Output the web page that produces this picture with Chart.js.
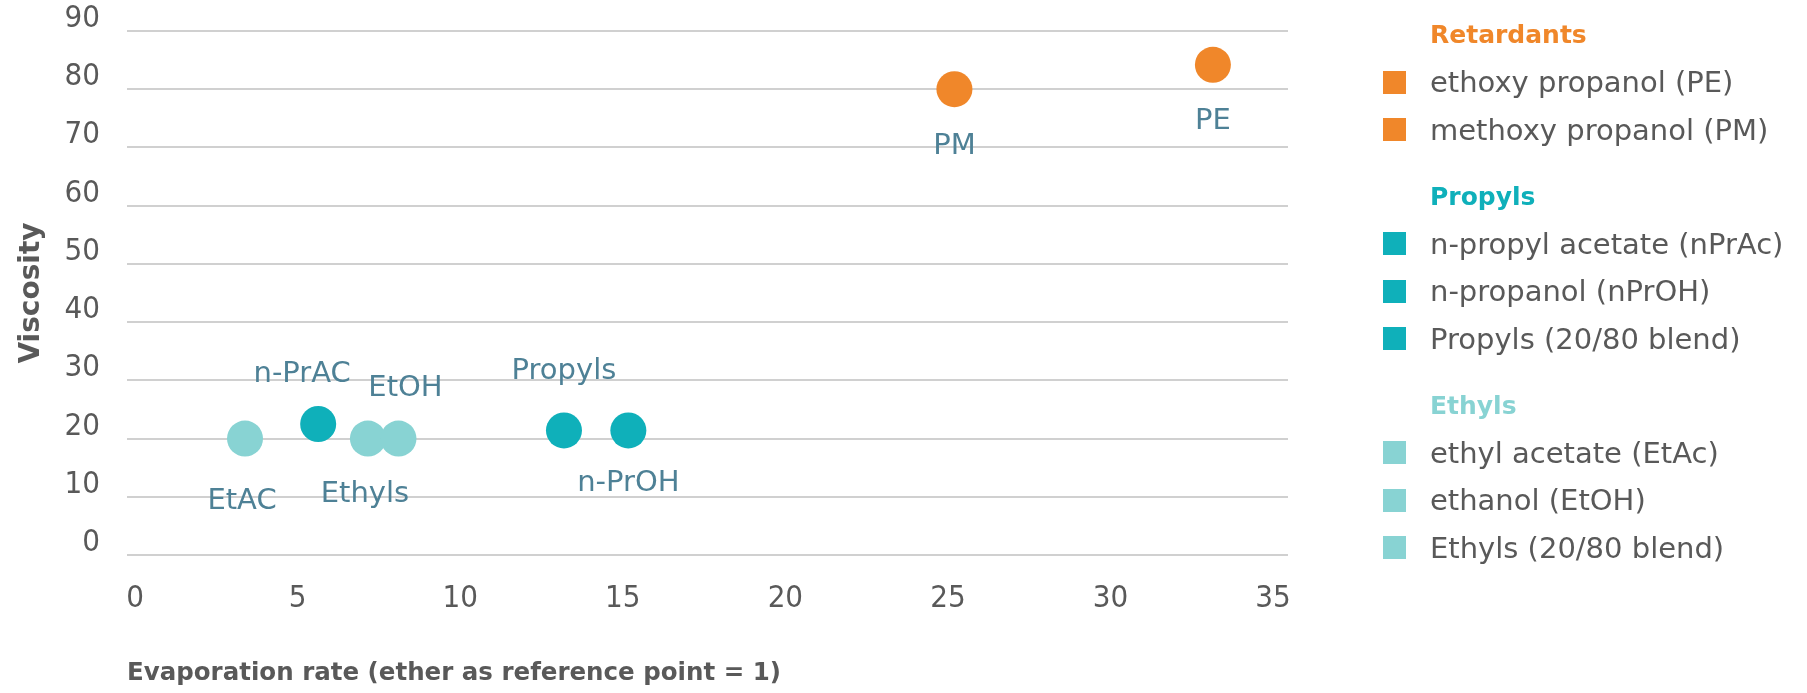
<!DOCTYPE html>
<html>
<head>
<meta charset="utf-8">
<title>Viscosity vs evaporation rate</title>
<script src="https://cdn.jsdelivr.net/npm/chart.js@4.4.1/dist/chart.umd.min.js"></script>
<style>
  html, body { margin: 0; padding: 0; background: #fff; overflow: hidden; }
  #wrap { position: relative; width: 1807px; height: 693px; }
  #chart { position: absolute; left: 0; top: 0; }
  #legend {
    position: absolute; left: 1383px; top: 11px;
    font-family: "DejaVu Sans", sans-serif; color: #595959;
  }
  .grp { margin-bottom: 19px; }
  .row { height: 47.5px; display: flex; align-items: center; font-size: 29px; white-space: nowrap; }
  .row.head { font-weight: bold; font-size: 25px; padding-left: 47px; }
  .box { width: 23px; height: 23px; margin-right: 24px; flex: none; }
</style>
</head>
<body>
<div id="wrap">
  <canvas id="chart" width="1807" height="693"></canvas>
  <div id="legend"></div>
</div>
<script>
// groups and their colours
const groupNames = ['Retardants', 'Propyls', 'Ethyls'];
const groupColors = ['#F0872A', '#0FB0BA', '#88D3D3'];

// one series per solvent
const seriesNames = [
  'ethoxy propanol (PE)',
  'methoxy propanol (PM)',
  'n-propyl acetate (nPrAc)',
  'n-propanol (nPrOH)',
  'Propyls (20/80 blend)',
  'ethyl acetate (EtAc)',
  'ethanol (EtOH)',
  'Ethyls (20/80 blend)'
];
const seriesGroup = [0, 0, 1, 1, 1, 2, 2, 2];
const evaporationRate = [33.15, 25.2, 5.63, 15.17, 13.19, 3.38, 8.1, 7.16];
const viscosity = [84.2, 80, 22.5, 21.4, 21.4, 20, 20, 20];
const pointLabels = ['PE', 'PM', 'n-PrAC', 'n-PrOH', 'Propyls', 'EtAC', 'EtOH', 'Ethyls'];

// axes
const xTitle = 'Evaporation rate (ether as reference point = 1)';
const yTitle = 'Viscosity';
const xTicks = [0, 5, 10, 15, 20, 25, 30, 35];
const yTicks = [0, 10, 20, 30, 40, 50, 60, 70, 80, 90];

// label placement relative to its point (style, not data)
const labelShiftX = [0, 0, -16, 0, 0, -3, 7, -3];
const labelShiftY = [54, 54, -53, 50, -62, 60, -53, 53];

const textGray = '#595959';
const labelColor = '#4E8196';
const tickFont = { family: '"Liberation Sans Narrow", "DejaVu Sans Condensed", sans-serif', size: 31 };

// point labels drawn next to each point
const pointLabelPlugin = {
  id: 'pointLabels',
  afterDatasetsDraw(chart) {
    const ctx = chart.ctx;
    const size = 29;
    ctx.save();
    ctx.font = size + 'px "DejaVu Sans", sans-serif';
    ctx.fillStyle = labelColor;
    ctx.textAlign = 'center';
    ctx.textBaseline = 'alphabetic';
    chart.data.datasets.forEach((ds, i) => {
      const pt = chart.getDatasetMeta(i).data[0];
      const capMid = pt.y + labelShiftY[i];
      ctx.fillText(pointLabels[i], pt.x + labelShiftX[i], capMid + size * 0.729 / 2);
    });
    ctx.restore();
  }
};

const ctx = document.getElementById('chart').getContext('2d');
const chart = new Chart(ctx, {
  type: 'scatter',
  data: {
    datasets: seriesNames.map((name, i) => ({
      label: name,
      data: [{ x: evaporationRate[i], y: viscosity[i] }],
      backgroundColor: groupColors[seriesGroup[i]],
      borderWidth: 0,
      pointRadius: 18,
      pointHoverRadius: 18
    }))
  },
  options: {
    responsive: false,
    animation: false,
    layout: { padding: { top: 31, right: 519, left: 0, bottom: 0 } },
    plugins: {
      legend: { display: false },
      tooltip: { enabled: false }
    },
    scales: {
      x: {
        type: 'linear',
        // the gridlines run a little past the 0 and 35 labels
        min: -0.25,
        max: 35.46,
        grid: { display: false },
        border: { display: false },
        afterBuildTicks(scale) { scale.ticks = xTicks.map(v => ({ value: v })); },
        ticks: {
          padding: 17,
          color: textGray,
          font: tickFont
        },
        title: {
          display: true,
          text: xTitle,
          align: 'start',
          color: textGray,
          font: { family: '"DejaVu Sans", sans-serif', size: 24.5, weight: 'bold' },
          padding: { top: 0, bottom: 5 }
        },
        afterFit(scale) {
          scale.height = 138;
          scale.paddingLeft = 0;
          scale.paddingRight = 0;
        }
      },
      y: {
        min: yTicks[0],
        max: yTicks[yTicks.length - 1],
        grid: { color: '#D0D0D0', lineWidth: 2, drawTicks: false },
        border: { display: false },
        afterBuildTicks(scale) { scale.ticks = yTicks.map(v => ({ value: v })); },
        ticks: {
          padding: 27,
          labelOffset: -12,
          color: textGray,
          font: tickFont
        },
        title: {
          display: true,
          text: yTitle,
          color: textGray,
          font: { family: '"DejaVu Sans", sans-serif', size: 28, weight: 'bold' },
          padding: { top: 15, bottom: 0 }
        },
        afterFit(scale) {
          scale.width = 127;
          scale.paddingTop = 0;
          scale.paddingBottom = 0;
        }
      }
    }
  },
  plugins: [pointLabelPlugin]
});

// grouped legend built from the same arrays
const legend = document.getElementById('legend');
groupNames.forEach((g, gi) => {
  const grp = document.createElement('div');
  grp.className = 'grp';
  const head = document.createElement('div');
  head.className = 'row head';
  head.style.color = groupColors[gi];
  head.textContent = g;
  grp.appendChild(head);
  seriesNames.forEach((name, si) => {
    if (seriesGroup[si] !== gi) return;
    const row = document.createElement('div');
    row.className = 'row';
    const box = document.createElement('span');
    box.className = 'box';
    box.style.background = groupColors[gi];
    const txt = document.createElement('span');
    txt.textContent = name;
    row.appendChild(box);
    row.appendChild(txt);
    grp.appendChild(row);
  });
  legend.appendChild(grp);
});
</script>
</body>
</html>
